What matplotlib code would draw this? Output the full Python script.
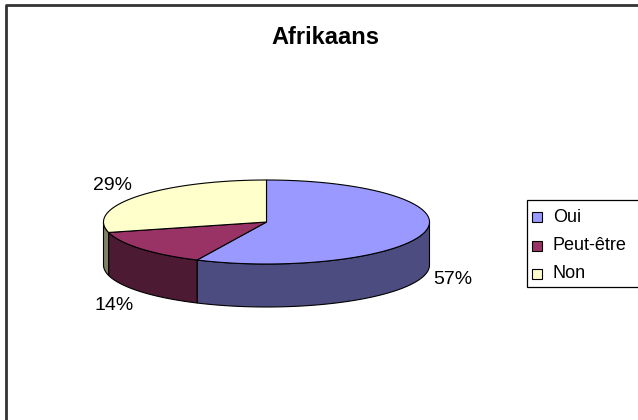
import numpy as np
import matplotlib
matplotlib.use("Agg")
import matplotlib.pyplot as plt
from matplotlib.patches import Polygon, Rectangle

plt.rcParams['font.family'] = ['Liberation Sans', 'DejaVu Sans']

title = "Afrikaans"
categories = ["Oui", "Peut-être", "Non"]
values = [57, 14, 29]
labels = ["57%", "14%", "29%"]
top_colors = ["#9999FF", "#993366", "#FFFFCC"]
side_colors = ["#4C4C80", "#4D1A33", "#808066"]

W, H = 638, 420
fig = plt.figure(figsize=(W / 100, H / 100), dpi=100)
ax = fig.add_axes([0, 0, 1, 1])
ax.set_xlim(0, W)
ax.set_ylim(H, 0)
ax.axis('off')

# pie geometry (pixels)
cx, cy, rx, ry, depth = 266.5, 222.0, 163.0, 42.0, 43.0

def pt(theta_deg, dy=0.0):
    t = np.radians(theta_deg)
    return cx + rx * np.sin(t), cy - ry * np.cos(t) + dy

total = float(sum(values))
bounds = np.concatenate([[0], np.cumsum(values) / total * 360.0])

# sides (front half: 90..270 deg clockwise from top)
for i in range(len(values)):
    a0, a1 = bounds[i], bounds[i + 1]
    s0, s1 = max(a0, 90), min(a1, 270)
    if s1 <= s0:
        continue
    th = np.linspace(s0, s1, 80)
    topx, topy = pt(th)
    botx, boty = pt(th[::-1], depth)
    poly = np.column_stack([np.concatenate([topx, botx]), np.concatenate([topy, boty])])
    ax.add_patch(Polygon(poly, closed=True, facecolor=side_colors[i],
                         edgecolor='black', linewidth=0.8, zorder=2))

# tops
for i in range(len(values)):
    a0, a1 = bounds[i], bounds[i + 1]
    th = np.linspace(a0, a1, 150)
    x, y = pt(th)
    poly = np.column_stack([np.concatenate([[cx], x]), np.concatenate([[cy], y])])
    ax.add_patch(Polygon(poly, closed=True, facecolor=top_colors[i],
                         edgecolor='black', linewidth=0.8, zorder=3))

# percentage labels
label_pos = [(453, 280), (114, 305), (112, 185)]
for (lx, ly), lab in zip(label_pos, labels):
    ax.text(lx, ly, lab, fontsize=14, ha='center', va='center', zorder=5)

# title
ax.text(325, 38, title, fontsize=17, fontweight='bold', ha='center', va='center')

# border (top & left visible)
ax.plot([6, 6, W + 5], [H + 5, 5, 5], color='#333333', linewidth=2, solid_capstyle='projecting')

# legend (drawn manually, right edge cropped like the reference)
ax.add_patch(Rectangle((527, 200), 130, 87, facecolor='white', edgecolor='black',
                       linewidth=0.9, zorder=4))
row_y = [217, 246, 274]
for yy, lab, col in zip(row_y, categories, top_colors):
    ax.add_patch(Rectangle((531.5, yy - 5), 10, 10, facecolor=col, edgecolor='black',
                           linewidth=0.8, zorder=5))
    ax.text(553, yy, lab, fontsize=13, ha='left', va='center', zorder=5)

fig.savefig("out.png", dpi=100)
